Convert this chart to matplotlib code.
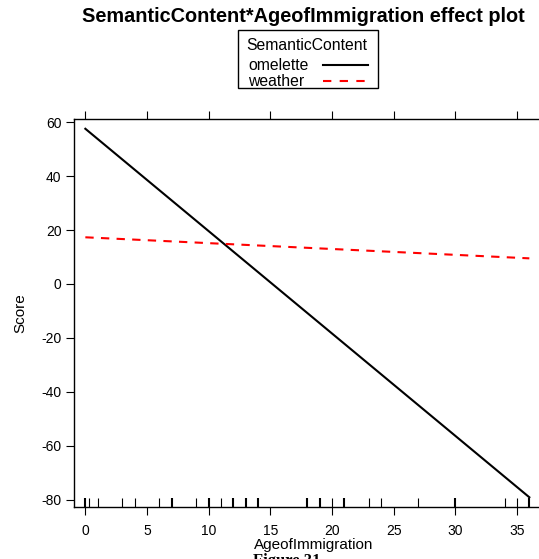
import matplotlib
matplotlib.use("Agg")
import matplotlib.pyplot as plt
from matplotlib.patches import Rectangle
from matplotlib.lines import Line2D

plt.rcParams['font.family'] = ['Liberation Sans', 'DejaVu Sans']
plt.rcParams['axes.unicode_minus'] = False

# effect lines (endpoints)
age = [0, 36]
omelette = [57.5, -79.0]
weather = [17.3, 9.5]

# rug of observed AgeofImmigration values, count = how many overlap
rug_x = [0, 0.3, 1, 3, 4, 6, 7, 9, 10, 11, 12, 13, 14, 18, 19, 20, 21, 23, 24, 27, 30, 34, 35, 36]
rug_n = [2, 1, 1, 1, 1, 1, 3, 1, 3, 1, 3, 3, 3, 3, 3, 1, 3, 1, 1, 1, 3, 1, 1, 2]

xticks = [0, 5, 10, 15, 20, 25, 30, 35]
yticks = [60, 40, 20, 0, -20, -40, -60, -80]

W, H = 539, 559
fig = plt.figure(figsize=(W/100, H/100), dpi=100)
ax = fig.add_axes([74/W, 52/H, 480/W, 387.5/H])

l1, = ax.plot(age, omelette, color='black', lw=1.5, label='omelette')
l2, = ax.plot(age, weather, color='red', lw=1.5, ls=(0, (4, 3.5)), label='weather')

# rug along the bottom
for x, n in zip(rug_x, rug_n):
    ax.plot([x, x], [0, 0.022], transform=ax.get_xaxis_transform(),
            color='black', lw=0.8 if n == 1 else 1.5, solid_capstyle='butt')

ax.set_xlim(-0.92, 38.0)
ax.set_ylim(-82.6, 60.93)
ax.set_xticks(xticks)
ax.set_yticks(yticks)
ax.tick_params(axis='x', top=True, bottom=True, direction='out', length=6, width=0.8, labelsize=10, pad=6)
ax.tick_params(axis='y', left=True, right=False, direction='out', length=6, width=0.8, labelsize=10, pad=3)
for s in ax.spines.values():
    s.set_linewidth(1)
ax.spines['right'].set_visible(False)  # box runs off the right edge

ax.set_xlabel('AgeofImmigration', fontsize=11, labelpad=0)
ax.set_ylabel('Score', fontsize=11, labelpad=10)

fig.text(303/W, 1 - 17/H, 'SemanticContent*AgeofImmigration effect plot',
         ha='center', va='center', fontsize=14.3, fontweight='bold')

# legend drawn by hand (text left, key on the right, as in lattice)
fig.patches.append(Rectangle((238/W, 1 - 88/H), 140/W, 58/H, transform=fig.transFigure,
                             fill=False, edgecolor='black', lw=1))
fig.text(307/W, 1 - 46/H, 'SemanticContent', ha='center', va='center', fontsize=11.3)
for ln, yy in [(l1, 65), (l2, 81)]:
    fig.text(248/W, 1 - (yy + 1)/H, ln.get_label(), ha='left', va='center', fontsize=11.3)
    fig.lines.append(Line2D([323/W, 368/W], [1 - yy/H, 1 - yy/H], transform=fig.transFigure,
                            color=ln.get_color(), lw=ln.get_linewidth(),
                            ls=(0, (4, 4)) if ln is l2 else '-'))

# caption cut off at the bottom edge, as in the source image
fig.text(287/W, -2/H, 'Figure 31', family=['Liberation Serif', 'DejaVu Serif'],
         fontweight='bold', fontsize=12, ha='center', va='center')

fig.savefig('out.png', dpi=100)
